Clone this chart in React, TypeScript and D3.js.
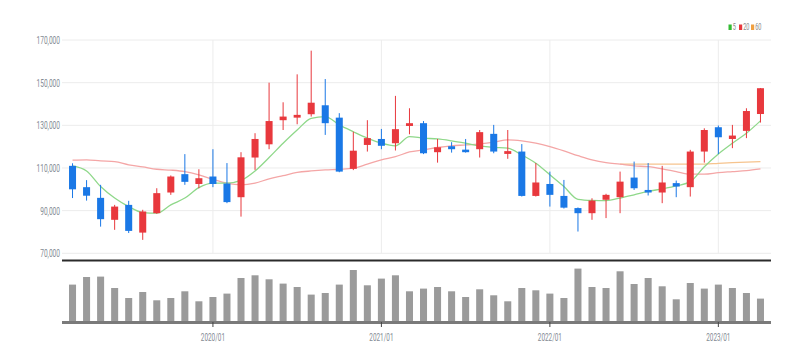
import * as d3 from 'd3';
import { useRef, useEffect } from 'react';

// monthly bars, 2019/03 .. 2023/04
const months = [
  '2019/03', '2019/04', '2019/05', '2019/06', '2019/07', '2019/08', '2019/09', '2019/10', '2019/11', '2019/12',
  '2020/01', '2020/02', '2020/03', '2020/04', '2020/05', '2020/06', '2020/07', '2020/08', '2020/09', '2020/10',
  '2020/11', '2020/12', '2021/01', '2021/02', '2021/03', '2021/04', '2021/05', '2021/06', '2021/07', '2021/08',
  '2021/09', '2021/10', '2021/11', '2021/12', '2022/01', '2022/02', '2022/03', '2022/04', '2022/05', '2022/06',
  '2022/07', '2022/08', '2022/09', '2022/10', '2022/11', '2022/12', '2023/01', '2023/02', '2023/03', '2023/04',
];

const open = [111000, 101000, 96000, 85700, 92700, 79700, 88800, 98500, 107100, 102500, 106000, 102700, 96300, 114900, 121100, 132400, 133600, 135200, 139400, 133600, 109600, 120800, 123600, 121600, 129700, 131000, 117400, 120200, 118600, 118800, 126000, 116600, 117700, 96900, 102500, 96900, 91200, 88800, 95100, 96300, 105500, 99700, 98500, 102900, 101000, 117700, 129100, 123600, 127400, 135300];
const close = [100000, 97000, 86000, 91900, 80500, 89600, 98200, 106000, 103500, 105200, 102500, 94000, 115000, 123600, 132000, 134100, 134900, 140600, 131000, 108300, 118100, 124000, 120400, 128200, 131000, 116900, 119700, 118800, 117400, 126800, 117700, 117900, 96900, 103200, 97400, 91400, 88800, 94700, 97400, 103600, 100500, 98500, 103200, 101300, 117700, 127800, 124400, 125200, 136700, 147400];
const high = [112200, 104300, 102100, 92700, 94600, 90400, 100500, 106500, 116500, 109400, 118800, 112300, 117400, 126300, 150000, 140800, 153900, 165000, 151700, 135700, 127000, 132400, 128300, 143800, 138000, 132000, 123600, 122100, 123600, 127800, 130200, 127800, 121200, 112300, 108300, 104400, 91500, 95800, 97900, 108300, 113000, 112300, 111000, 104100, 118500, 128600, 129900, 130200, 138000, 147500];
const low = [95900, 94700, 82500, 81000, 79500, 76300, 88500, 97400, 102100, 100500, 101000, 93500, 87200, 109100, 118800, 127800, 130500, 134100, 125500, 108000, 109000, 117700, 118800, 118200, 125800, 116500, 112500, 117200, 117200, 114900, 116900, 114300, 96600, 96600, 91900, 91000, 80200, 85700, 86500, 88800, 99700, 97100, 93500, 96300, 96600, 112500, 116500, 119300, 124000, 131300];

// moving averages as shown
const ma5 = [111000, 108600, 101300, 95900, 91900, 89100, 88800, 92700, 95900, 100800, 102900, 102900, 104200, 108600, 114900, 121600, 127800, 133300, 134100, 130200, 127000, 124000, 121600, 120400, 124700, 124000, 123600, 122700, 121600, 120400, 119700, 119300, 116100, 112200, 106800, 101300, 95300, 94800, 94700, 95900, 97400, 99000, 100200, 101600, 103600, 110600, 116600, 121600, 126300, 132100];
const ma20 = [113650, 113800, 113300, 113000, 111500, 110500, 109400, 109000, 108300, 106800, 104700, 102900, 102100, 102900, 104900, 106400, 107900, 108600, 109100, 109400, 109900, 111800, 113800, 115300, 117500, 118500, 119600, 120400, 120800, 121300, 122100, 123200, 122700, 121600, 120000, 118000, 115800, 113800, 112500, 111800, 111000, 110600, 109600, 108300, 107100, 107100, 107800, 108300, 108800, 109600];
const ma60 = [null, null, null, null, null, null, null, null, null, null, null, null, null, null, null, null, null, null, null, null, null, null, null, null, null, null, null, null, null, null, null, null, null, null, null, null, null, null, null, 111800, 111800, 111800, 111800, 111800, 111800, 111800, 112200, 112500, 112700, 113000];

const volume = [374, 450, 454, 340, 240, 300, 217, 240, 307, 207, 250, 284, 440, 467, 427, 384, 350, 274, 290, 374, 520, 367, 434, 467, 307, 334, 350, 307, 250, 327, 267, 207, 340, 317, 284, 240, 534, 350, 340, 507, 380, 440, 357, 227, 390, 334, 374, 340, 290, 234];

const priceTicks = [70000, 90000, 110000, 130000, 150000, 170000];
const yearTicks = ['2020/01', '2021/01', '2022/01', '2023/01'];

const legend = [
  { label: '5', color: '#33bb33' },
  { label: '20', color: '#e8383d' },
  { label: '60', color: '#f0a040' },
];

const UP = '#e8383d';
const DOWN = '#1a78e6';

export default function App() {
  const ref = useRef<SVGSVGElement>(null);

  useEffect(() => {
    const width = 808;
    const height = 362;
    const left = 62;
    const right = 771;

    const svg = d3.select(ref.current)
      .attr('width', width)
      .attr('height', height)
      .attr('style', "position:absolute;left:0;top:0;font-family:Roboto, sans-serif;background:#fff");

    svg.selectAll('*').remove();

    const x = d3.scaleBand().domain(months).range([left, right]).padding(0.5);
    const cx = (m: string) => (x(m) as number) + x.bandwidth() / 2;

    const y = d3.scaleLinear().domain([70000, 170000]).range([253.3, 40]);
    const yv = d3.scaleLinear().domain([0, 610]).range([322, 261]);

    // grid
    svg.append('g')
      .selectAll('line')
      .data(priceTicks)
      .join('line')
        .attr('x1', left).attr('x2', right)
        .attr('y1', d => y(d)).attr('y2', d => y(d))
        .attr('stroke', '#ececec');

    svg.append('g')
      .selectAll('line')
      .data(yearTicks)
      .join('line')
        .attr('x1', d => cx(d)).attr('x2', d => cx(d))
        .attr('y1', y(170000)).attr('y2', y(70000))
        .attr('stroke', '#ececec');

    // y labels (narrow)
    svg.append('g')
      .selectAll('text')
      .data(priceTicks)
      .join('text')
        .attr('transform', d => `translate(60,${y(d) + 4}) scale(0.6,1)`)
        .attr('text-anchor', 'end')
        .attr('font-size', 11)
        .attr('fill', '#848b94')
        .text(d => d3.format(',')(d));

    // moving averages
    const maLine = (vals: (number | null)[], color: string) => {
      const line = d3.line<number | null>()
        .defined(d => d != null)
        .x((_, i) => cx(months[i]))
        .y(d => y(d as number))
        .curve(d3.curveMonotoneX);
      svg.append('path')
        .attr('d', line(vals))
        .attr('fill', 'none')
        .attr('stroke', color)
        .attr('stroke-width', 1.3);
    };
    maLine(ma60, '#f6c48e');
    maLine(ma20, '#f4a6a6');
    maLine(ma5, '#8fd88a');

    // candles
    const idx = d3.range(months.length);
    const candles = svg.append('g')
      .selectAll('g')
      .data(idx)
      .join('g');

    candles.append('line')
      .attr('x1', i => cx(months[i])).attr('x2', i => cx(months[i]))
      .attr('y1', i => y(high[i])).attr('y2', i => y(low[i]))
      .attr('stroke', i => close[i] >= open[i] ? UP : DOWN);

    candles.append('rect')
      .attr('x', i => x(months[i]) as number)
      .attr('width', x.bandwidth())
      .attr('y', i => y(Math.max(open[i], close[i])))
      .attr('height', i => Math.max(1.5, Math.abs(y(open[i]) - y(close[i]))))
      .attr('fill', i => close[i] >= open[i] ? UP : DOWN);

    // panel separator
    svg.append('line')
      .attr('x1', left).attr('x2', right)
      .attr('y1', 260.5).attr('y2', 260.5)
      .attr('stroke', '#2b2b2b')
      .attr('stroke-width', 2);

    // volume
    svg.append('g')
      .selectAll('rect')
      .data(idx)
      .join('rect')
        .attr('x', i => x(months[i]) as number)
        .attr('width', x.bandwidth())
        .attr('y', i => yv(volume[i]))
        .attr('height', i => yv(0) - yv(volume[i]))
        .attr('fill', '#9b9b9b');

    svg.append('line')
      .attr('x1', left).attr('x2', right)
      .attr('y1', 322.5).attr('y2', 322.5)
      .attr('stroke', '#7a7a7a')
      .attr('stroke-width', 3);

    // x axis ticks + labels
    const xa = svg.append('g')
      .selectAll('g')
      .data(yearTicks)
      .join('g')
        .attr('transform', d => `translate(${cx(d)},0)`);
    xa.append('line')
      .attr('y1', 322).attr('y2', 327)
      .attr('stroke', '#444');
    xa.append('text')
      .attr('transform', 'translate(0,341) scale(0.58,1)')
      .attr('text-anchor', 'middle')
      .attr('font-size', 11)
      .attr('fill', '#848b94')
      .text(d => d);

    // legend
    const lg = svg.append('g').attr('transform', 'translate(728.5,0)');
    let lx = 0;
    legend.forEach(item => {
      lg.append('rect')
        .attr('x', lx).attr('y', 24.5)
        .attr('width', 3.2).attr('height', 5.5)
        .attr('fill', item.color);
      lg.append('text')
        .attr('transform', `translate(${lx + 4.2},30.3) scale(0.62,1)`)
        .attr('font-size', 9)
        .attr('fill', '#888')
        .text(item.label);
      lx += item.label.length === 1 ? 10.5 : 12;
    });
  }, []);

  return (
    <div>
      <svg ref={ref}></svg>
    </div>
  );
}
